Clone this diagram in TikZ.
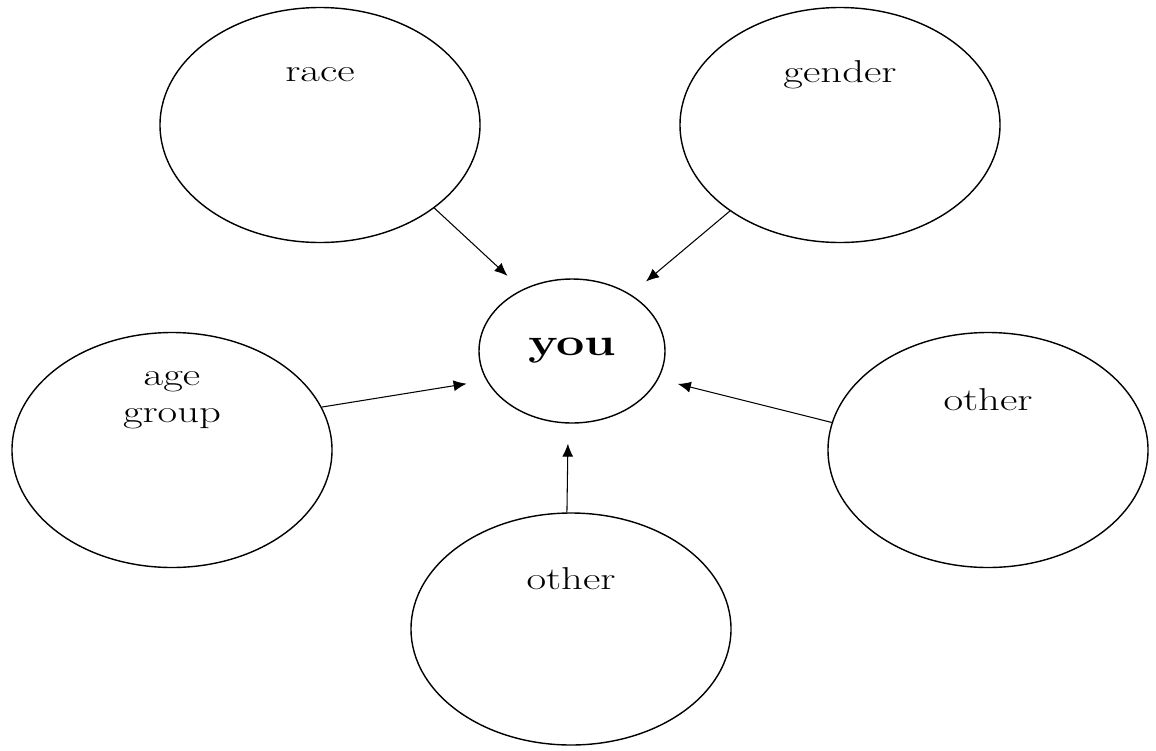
\documentclass[tikz,border=0pt]{standalone}
\usepackage{tikz}
\usetikzlibrary{arrows.meta,shapes.geometric}

\begin{document}
\begin{tikzpicture}[
  font=\fontsize{18}{21}\selectfont,
  grp/.style={draw, ellipse, line width=0.8pt, inner sep=0pt,
              minimum width=6.4cm, minimum height=4.7cm},
  tag/.style={xscale=1.35, yshift=1cm, align=center},
  arrow/.style={-{Latex[length=2.6mm, width=2.2mm]}, line width=0.6pt,
                shorten >=0.4cm}
]
\useasboundingbox (0,0) rectangle (23.12,-15);

% ---- Centre ----
\node[draw, ellipse, line width=0.8pt, inner sep=0pt,
      minimum width=3.72cm, minimum height=2.88cm] (you) at (11.44,-7.02)
  {\fontsize{22}{24}\selectfont\scalebox{1.3}[1]{\textbf{you}}};

% ---- Groups ----
\node[grp, label={[tag]center:race}]          (race)   at (6.4,-2.5)   {};
\node[grp, label={[tag]center:gender}]        (gender) at (16.8,-2.5)  {};
\node[grp, label={[tag]center:{age\\group}}]  (age)    at (3.44,-9.0)  {};
\node[grp, label={[tag]center:other}]         (otherr) at (19.76,-9.0) {};
\node[grp, minimum height=4.64cm,
      label={[tag]center:other}]              (otherb) at (11.42,-12.58) {};

% ---- Wiring ----
\draw[arrow] (race.-36)    -- (you.129);
\draw[arrow] (gender.-142) -- (you.44);
\draw[arrow] (age.16)      -- (you.199);
\draw[arrow] (otherr.170)  -- (you.-18);
\draw[arrow] (otherb.92)   -- (you.-93);
\end{tikzpicture}
\end{document}
